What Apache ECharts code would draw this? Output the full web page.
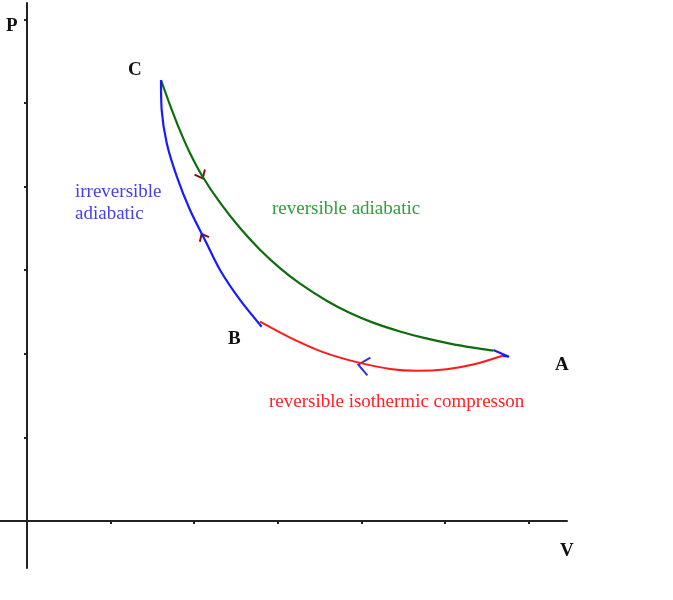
<!DOCTYPE html>
<html>
<head>
<meta charset="utf-8">
<script src="https://cdn.jsdelivr.net/npm/echarts@6/dist/echarts.min.js"></script>
<style>html,body{margin:0;padding:0;background:#fff}#c{width:673px;height:600px}</style>
</head>
<body>
<div id="c"></div>
<script>
// Data (V, P) in axis units
const reversibleAdiabatic = [
  [1.603,5.275],[1.711,4.974],[1.830,4.669],[1.950,4.400],[2.105,4.112],[2.309,3.807],
  [2.548,3.504],[2.787,3.245],[3.026,3.025],[3.266,2.839],[3.589,2.632],[3.864,2.488],
  [4.139,2.373],[4.462,2.267],[4.737,2.193],[5.060,2.122],[5.335,2.073],[5.574,2.037]
];
const irreversibleAdiabatic = [
  [1.603,5.275],[1.611,4.916],[1.671,4.522],[1.791,4.123],
  [1.950,3.720],[2.129,3.361],[2.309,3.002],[2.548,2.644],[2.807,2.324]
];
const isothermCompression = [
  [2.787,2.384],[3.146,2.194],[3.541,2.020],[3.944,1.900],[4.342,1.819],[4.661,1.797],
  [5.020,1.815],[5.335,1.871],[5.697,1.980]
];
const hookAtA = [[5.577,2.045],[5.766,1.965],[5.694,1.974]];
// arrows: [tipV, tipP, backV, backP]
const arrows = [
  [2.102,4.099,1.950,4.414],
  [2.089,3.433,2.309,3.002],
  [3.963,1.869,4.342,1.806]
];
const arrowColors = ['#8b1010','#8b1010','#3333dd'];
const arrowLens = [9,8,14];
const tickValues = [1,2,3,4,5,6];

const chart = echarts.init(document.getElementById('c'), null, {renderer:'canvas'});
const serif = '"Liberation Serif","DejaVu Serif",serif';
const option = {
  animation:false,
  backgroundColor:'#fff',
  grid:{left:0,right:106,top:3,bottom:32},
  xAxis:{type:'value',min:-0.3230,max:6.4593,
    axisLine:{onZero:true,lineStyle:{color:'#222',width:2}},
    axisTick:{show:true,customValues:tickValues,length:3,lineStyle:{color:'#222',width:2}},
    axisLabel:{show:false},splitLine:{show:false}},
  yAxis:{type:'value',min:-0.5622,max:6.196,
    axisLine:{onZero:true,lineStyle:{color:'#222',width:2}},
    axisTick:{show:true,customValues:tickValues,length:3,lineStyle:{color:'#222',width:2}},
    axisLabel:{show:false},splitLine:{show:false}},
  series:[
    {type:'line',data:reversibleAdiabatic,smooth:0.3,showSymbol:false,lineStyle:{color:'#0e6e0e',width:2.2}},
    {type:'line',data:irreversibleAdiabatic,smooth:0.3,showSymbol:false,lineStyle:{color:'#1a1aff',width:2.2}},
    {type:'line',data:isothermCompression,smooth:0.3,showSymbol:false,lineStyle:{color:'#ff1a1a',width:2}},
    {type:'line',data:hookAtA,showSymbol:false,lineStyle:{color:'#1a1aff',width:2}},
    {type:'custom',data:arrows,renderItem:function(params,api){
      const tip = api.coord([api.value(0),api.value(1)]);
      const back = api.coord([api.value(2),api.value(3)]);
      const i = params.dataIndex;
      const ang = Math.atan2(back[1]-tip[1],back[0]-tip[0]);
      const L = arrowLens[i], a = 40*Math.PI/180;
      const p1 = [tip[0]+L*Math.cos(ang+a), tip[1]+L*Math.sin(ang+a)];
      const p2 = [tip[0]+L*Math.cos(ang-a), tip[1]+L*Math.sin(ang-a)];
      return {type:'polyline',shape:{points:[p1,tip,p2]},style:{stroke:arrowColors[i],lineWidth:2,fill:null}};
    }}
  ],
  graphic:[
    {type:'text',style:{x:6,y:26,text:'P',font:'bold 19px '+serif,fill:'#111',textVerticalAlign:'middle'}},
    {type:'text',style:{x:128,y:70.5,text:'C',font:'bold 19px '+serif,fill:'#111',textVerticalAlign:'middle'}},
    {type:'text',style:{x:228,y:339,text:'B',font:'bold 19px '+serif,fill:'#111',textVerticalAlign:'middle'}},
    {type:'text',style:{x:555,y:365,text:'A',font:'bold 19px '+serif,fill:'#111',textVerticalAlign:'middle'}},
    {type:'text',style:{x:560,y:551.5,text:'V',font:'bold 19px '+serif,fill:'#111',textVerticalAlign:'middle'}},
    {type:'text',style:{x:75,y:192.5,text:'irreversible',font:'19px '+serif,fill:'#4444dd',textVerticalAlign:'middle'}},
    {type:'text',style:{x:75,y:214.5,text:'adiabatic',font:'19px '+serif,fill:'#4444dd',textVerticalAlign:'middle'}},
    {type:'text',style:{x:272,y:209.5,text:'reversible adiabatic',font:'19px '+serif,fill:'#2e9e3e',textVerticalAlign:'middle'}},
    {type:'text',style:{x:269,y:402.5,text:'reversible isothermic compresson',font:'19px '+serif,fill:'#ff2222',textVerticalAlign:'middle'}}
  ]
};
chart.setOption(option);
</script>
</body>
</html>
